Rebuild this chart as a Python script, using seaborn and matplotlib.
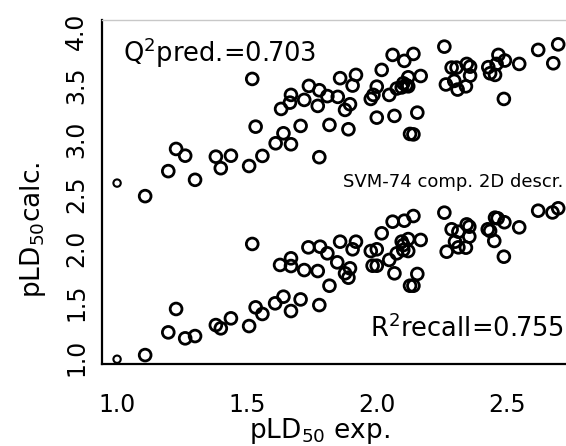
import matplotlib
matplotlib.use("Agg")
import matplotlib.pyplot as plt
import seaborn as sns
import pandas as pd

# Upper cluster: predicted (Q2 pred.)
x_pred = [1.00, 1.108, 1.197, 1.227, 1.262, 1.30, 1.38, 1.399, 1.438, 1.508,
          1.52, 1.533, 1.559, 1.61, 1.64, 1.669, 1.631, 1.665, 1.669, 1.706,
          1.72, 1.738, 1.772, 1.778, 1.778, 1.809, 1.817, 1.849, 1.858, 1.877,
          1.89, 1.896, 1.906, 1.919, 1.976, 1.986, 1.999, 1.999, 2.018, 2.047,
          2.06, 2.067, 2.076, 2.095, 2.101, 2.113, 2.12, 2.105, 2.127, 2.14,
          2.12, 2.168, 2.155, 2.14, 2.259, 2.287, 2.306, 2.345, 2.358, 2.265,
          2.297, 2.31, 2.342, 2.358, 2.428, 2.467, 2.46, 2.492, 2.435, 2.454,
          2.488, 2.547, 2.62, 2.678, 2.697]
y_pred = [2.60, 2.48, 2.71, 2.914, 2.852, 2.63, 2.843, 2.737, 2.852, 2.757,
          3.558, 3.119, 2.85, 2.966, 3.058, 2.957, 3.282, 3.34, 3.411, 3.126,
          3.365, 3.494, 3.31, 3.454, 2.838, 3.40, 3.135, 3.393, 3.565, 3.273,
          3.095, 3.325, 3.497, 3.595, 3.374, 3.411, 3.487, 3.202, 3.641, 3.411,
          3.779, 3.218, 3.47, 3.48, 3.518, 3.50, 3.49, 3.724, 3.052, 3.788,
          3.573, 3.585, 3.248, 3.048, 3.855, 3.662, 3.662, 3.696, 3.671, 3.507,
          3.54, 3.46, 3.49, 3.588, 3.666, 3.779, 3.696, 3.727, 3.61, 3.595,
          3.374, 3.696, 3.825, 3.702, 3.876]

# Lower cluster: recall (R2 recall)
x_rec = [1.00, 1.108, 1.197, 1.227, 1.262, 1.30, 1.38, 1.399, 1.438, 1.508,
         1.52, 1.533, 1.559, 1.608, 1.64, 1.669, 1.627, 1.669, 1.669, 1.706,
         1.72, 1.736, 1.772, 1.781, 1.778, 1.809, 1.817, 1.847, 1.858, 1.877,
         1.89, 1.896, 1.906, 1.919, 1.976, 1.983, 1.999, 1.999, 2.018, 2.047,
         2.06, 2.067, 2.076, 2.095, 2.101, 2.101, 2.12, 2.105, 2.127, 2.14,
         2.12, 2.168, 2.155, 2.14, 2.259, 2.287, 2.313, 2.345, 2.355, 2.268,
         2.30, 2.313, 2.342, 2.355, 2.426, 2.464, 2.454, 2.49, 2.435, 2.451,
         2.488, 2.547, 2.62, 2.675, 2.697]
y_rec = [0.98, 1.018, 1.227, 1.442, 1.172, 1.193, 1.294, 1.264, 1.356, 1.285,
         2.04, 1.457, 1.396, 1.494, 1.555, 1.423, 1.847, 1.908, 1.837, 1.53,
         1.80, 2.009, 1.791, 2.015, 1.478, 1.954, 1.656, 1.871, 2.061, 1.77,
         1.73, 1.816, 1.991, 2.061, 1.975, 1.84, 1.84, 1.991, 2.138, 1.893,
         2.245, 1.77, 1.954, 2.062, 2.03, 1.985, 1.975, 2.254, 1.656, 2.297,
         2.085, 2.077, 1.764, 1.656, 2.328, 2.175, 2.153, 2.22, 2.199, 1.969,
         2.061, 2.009, 2.006, 2.108, 2.175, 2.276, 2.282, 2.24, 2.16, 2.068,
         1.923, 2.193, 2.346, 2.33, 2.368]

x_ticks = [1.0, 1.5, 2.0, 2.5]
y_ticks = [1.0, 1.5, 2.0, 2.5, 3.0, 3.5, 4.0]
q2_text = r"Q$^{\mathregular{2}}$pred.=0.703"
r2_text = r"R$^{\mathregular{2}}$recall=0.755"
model_text = "SVM-74 comp. 2D descr."
x_label = r"pLD$_{\mathregular{50}}$ exp."
y_label = r"pLD$_{\mathregular{50}}$calc."

sns.set_style("white")
plt.rcParams['font.family'] = ['DejaVu Sans']
plt.rcParams['text.color'] = 'black'

W, H = 566, 446
fig = plt.figure(figsize=(W / 100, H / 100), dpi=100)
ax = fig.add_axes([102 / W, 1 - 364 / H, (566 - 102) / W, (364 - 20) / H])

df_all = pd.concat([
    pd.DataFrame({"x": x_pred[1:], "y": y_pred[1:]}),
    pd.DataFrame({"x": x_rec[1:], "y": y_rec[1:]}),
])
df_small = pd.DataFrame({"x": [x_pred[0], x_rec[0]], "y": [y_pred[0], y_rec[0]]})

sns.scatterplot(data=df_all, x="x", y="y", ax=ax, marker="o", s=72,
                facecolors="none", edgecolors="black", linewidths=2.0)
sns.scatterplot(data=df_small, x="x", y="y", ax=ax, marker="o", s=28,
                facecolors="none", edgecolors="black", linewidths=1.5)

ax.set_xlim(0.942, 2.727)
ax.set_ylim(0.936, 4.10)
ax.set_xticks(x_ticks)
ax.set_yticks(y_ticks)
ax.set_xticklabels([f"{v:.1f}" for v in x_ticks], fontsize=17)
ax.set_yticklabels([f"{v:.1f}" for v in y_ticks], fontsize=17, rotation=90, va="center")
ax.tick_params(axis="x", direction="out", length=7, width=1.5, pad=14, colors="black")
ax.tick_params(axis="y", direction="out", length=7, width=1.5, pad=3, colors="black")
ax.set_xlabel("")
ax.set_ylabel("")

for side in ["left", "bottom"]:
    ax.spines[side].set_color("black")
    ax.spines[side].set_linewidth(1.6)
ax.spines["top"].set_color("#c8c8c8")
ax.spines["top"].set_linewidth(1.0)
ax.spines["right"].set_visible(False)

ax.text(1.023, 3.715, q2_text, fontsize=18.5, ha="left", va="baseline", color="black")
ax.text(2.718, 2.564, model_text, fontsize=13, ha="right", va="baseline", color="black")
ax.text(2.718, 1.184, r2_text, fontsize=18.5, ha="right", va="baseline", color="black")

fig.text(319 / W, 1 - 438 / H, x_label, fontsize=19, ha="center", va="baseline", color="black")
fig.text(33 / W, 1 - 230 / H, y_label, fontsize=19, ha="center", va="center", rotation=90, color="black")

fig.savefig("out.png", dpi=100)
